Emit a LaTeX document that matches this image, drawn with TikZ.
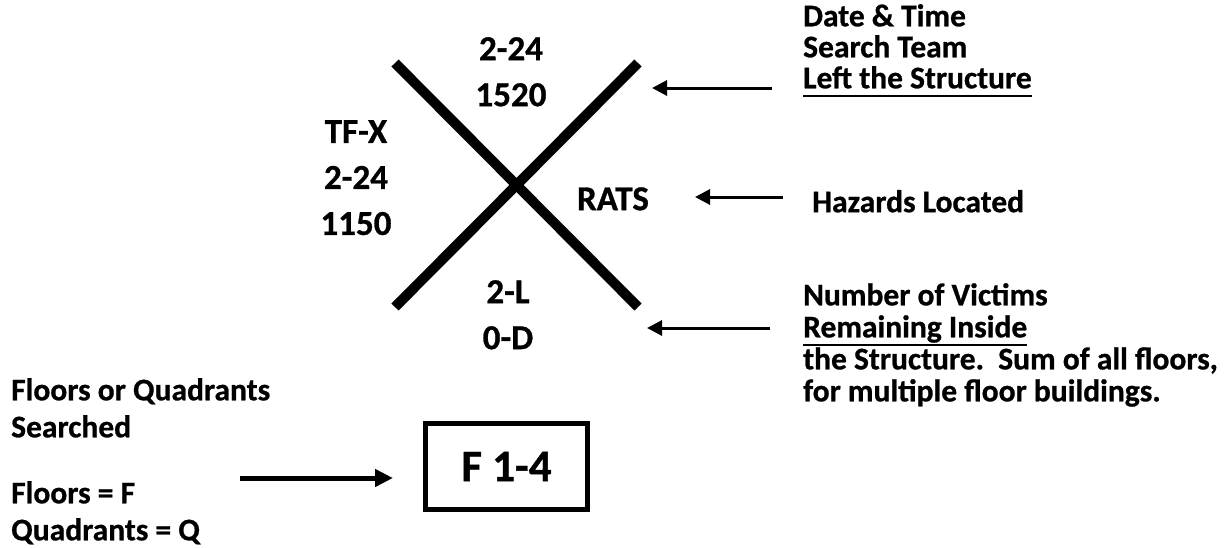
\documentclass[tikz,border=0pt]{standalone}
\usepackage{fontspec}
\setmainfont{Carlito}[BoldFeatures={FakeBold=0.8}]
\usetikzlibrary{arrows.meta}
\frenchspacing
\newcommand{\underrule}[1]{\setbox0\hbox{#1}\rlap{\raisebox{-9pt}[0pt][0pt]{\rule{\wd0}{2.5pt}}}\box0}

\begin{document}
\begin{tikzpicture}[x=1pt,y=-1pt,
    marktext/.style={font=\bfseries\fontsize{35}{46}\selectfont, align=center, inner sep=0pt,
      anchor=north, execute at begin node=\rule{0pt}{28pt}},
    note/.style={font=\bfseries\fontsize{31.5}{31}\selectfont, align=left, inner sep=0pt,
      anchor=north west, execute at begin node=\rule{0pt}{24pt}},
    pointer/.style={line width=3pt, -{Triangle[length=15pt,width=15pt]}},
    bar/.style={line width=10pt}]
\useasboundingbox (0,0) rectangle (1227,547);

% the search marking
\coordinate (nw) at (395,63);
\coordinate (ne) at (638,63);
\coordinate (sw) at (395,307);
\coordinate (se) at (638,307);
\draw[bar] (nw) -- (se);
\draw[bar] (sw) -- (ne);

\node[marktext] (leftq) at (356,120) {TF-X\\2-24\\1150};
\node[marktext] (topq) at (511,37) {2-24\\1520};
\node[marktext] (rightq) at (613,182) {RATS};
\node[marktext] (bottomq) at (508,280) {2-L\\0-D};

% explanations
\node[note] (leftnote) at (803,4)
  {Date \& Time\\Search Team\\\underrule{Left the Structure}};
\node[note] (hazardnote) at (812,188) {Hazards Located};
\node[note, font=\bfseries\fontsize{31.5}{32}\selectfont] (victimnote) at (803,283)
  {Number of Victims\\\underrule{Remaining Inside}\\the Structure.\ \ Sum of all floors,\\for multiple floor buildings.};
\node[note, font=\bfseries\fontsize{31.5}{37}\selectfont] (floornote) at (11,378)
  {Floors or Quadrants\\Searched\\[29pt]Floors = F\\Quadrants = Q};

\node[draw, line width=5pt, minimum width=162pt, minimum height=86pt, inner sep=0pt,
  font=\bfseries\fontsize{45}{50}\selectfont] (floors) at (506.5,466.5) {F 1-4};

% pointers
\coordinate (lefttail) at (772,88);
\coordinate (lefttip) at (652,88);
\coordinate (hazardtail) at (783,197);
\coordinate (hazardtip) at (695,197);
\coordinate (victimtail) at (770,328);
\coordinate (victimtip) at (647,328);
\coordinate (floortail) at (240,478);
\coordinate (floortip) at (393,478);
\draw[pointer] (lefttail) -- (lefttip);
\draw[pointer] (hazardtail) -- (hazardtip);
\draw[pointer] (victimtail) -- (victimtip);
\draw[pointer, line width=5pt, -{Triangle[length=18pt,width=17pt]}] (floortail) -- (floortip);
\end{tikzpicture}
\end{document}
